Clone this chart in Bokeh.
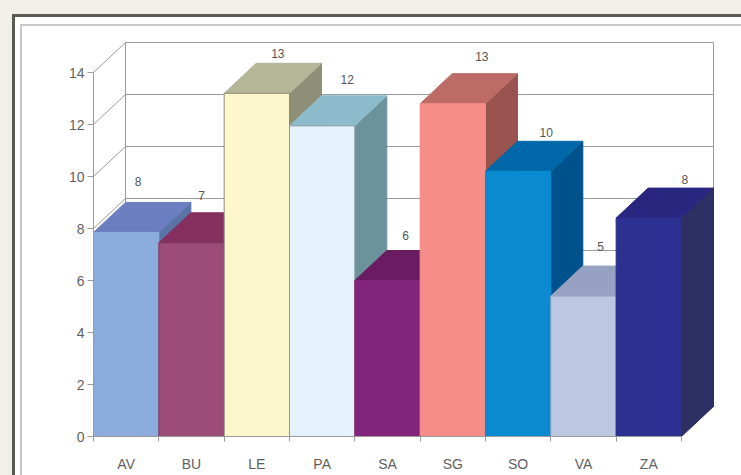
from bokeh.plotting import figure
from bokeh.models import Range1d, FixedTicker, ColumnDataSource
from bokeh.embed import file_html
from bokeh.resources import INLINE
from bokeh.core.properties import value

categories = ["AV", "BU", "LE", "PA", "SA", "SG", "SO", "VA", "ZA"]
bar_values = [7.85, 7.45, 13.2, 11.95, 6.0, 12.8, 10.2, 5.4, 8.4]
label_values = ["8", "7", "13", "12", "6", "13", "10", "5", "8"]
label_dx = [12, 10, 21, 25, 18, 29, 28, 17, 36]
label_dy = [51, 47, 40, 46, 45, 47, 39, 50, 39]
y_ticks = [0, 2, 4, 6, 8, 10, 12, 14]
front_colors = ["#8bacdc", "#9c4c78", "#fdf8cc", "#e4f3fb", "#82237c", "#f78d88", "#0a8ad0", "#bcc8e2", "#2c3090"]
top_colors = ["#6b7fc0", "#85305f", "#b5b598", "#8cbccc", "#6a1c62", "#bc6b66", "#0068a8", "#97a2c2", "#2a2680"]
side_colors = ["#5a74a8", "#7a2c55", "#8f8f78", "#6c939c", "#5e1a58", "#9a5450", "#00528c", "#7f8aa8", "#2e2f62"]
edge_colors = ["#8bacdc", "#7a3a60", "#8a8a78", "#8a9aa0", "#82237c", "#f78d88", "#0a8ad0", "#9aa6c0", "#2c3090"]

PX_X = 65.33
PX_Y = 26.0
DX = 32 / PX_X
DY = 30 / PX_Y
N = len(categories)

p = figure(width=741, height=475, output_backend="svg", toolbar_location=None,
           x_range=Range1d(0, 648 / PX_X), y_range=Range1d(0, 436 / PX_Y),
           min_border_left=93, min_border_right=0, min_border_top=0, min_border_bottom=39,
           background_fill_color=None, border_fill_color=None, outline_line_color=None)
p.grid.visible = False

# page frame, painted behind the transparent canvas
def band(color, x, y, w, h):
    return f"linear-gradient({color},{color}) {x}px {y}px / {w}px {h}px no-repeat"

p.styles = {"background": ", ".join([
    band("#5a5a55", 12, 14, 3, 461),
    band("#5a5a55", 12, 14, 729, 3),
    band("#c8c8c8", 20, 24, 2, 451),
    band("#c8c8c8", 20, 24, 721, 2),
    band("#f2efe9", 0, 0, 12, 475),
    band("#f2efe9", 0, 0, 741, 14),
    band("#ffffff", 0, 0, 741, 475),
])}

# walls
grid_color = "#9a9a9a"
wall = [t for t in y_ticks]
p.segment(x0=[DX] * len(wall), x1=[N + DX] * len(wall),
          y0=[t + DY for t in wall], y1=[t + DY for t in wall],
          line_color=grid_color, line_width=1)
p.segment(x0=[0] * len(wall), x1=[DX] * len(wall),
          y0=wall, y1=[t + DY for t in wall], line_color=grid_color, line_width=1)
p.segment(x0=[DX, N + DX], x1=[DX, N + DX],
          y0=[DY, DY], y1=[14 + DY, 14 + DY], line_color=grid_color, line_width=1)

# bars
xs, ys, fills, lines = [], [], [], []
for i, v in enumerate(bar_values):
    l, r = i, i + 1
    xs.append([r, r + DX, r + DX, r]); ys.append([0, DY, v + DY, v])
    fills.append(side_colors[i]); lines.append(side_colors[i])
    xs.append([l, r, r + DX, l + DX]); ys.append([v, v, v + DY, v + DY])
    fills.append(top_colors[i]); lines.append(top_colors[i])
    xs.append([l, r, r, l]); ys.append([0, 0, v, v])
    fills.append(front_colors[i]); lines.append(edge_colors[i])
p.patches(xs=xs, ys=ys, fill_color=fills, line_color=lines, line_width=1)

# value labels
src = ColumnDataSource(dict(x=[i + 0.5 for i in range(N)], y=bar_values, t=label_values,
                            dx=label_dx, dy=[-d for d in label_dy]))
p.text(x="x", y="y", text="t", source=src, x_offset="dx", y_offset="dy",
       text_align="center", text_baseline="middle", text_font=value("Liberation Sans"),
       text_font_size="12px", text_color="#555555")

# axes
ya = p.yaxis[0]
ya.ticker = FixedTicker(ticks=y_ticks)
ya.bounds = (0, 14)
ya.minor_tick_line_color = None
ya.major_tick_in = 0
ya.major_tick_out = 6
ya.major_label_standoff = 3
ya.axis_line_color = grid_color
ya.major_tick_line_color = grid_color
ya.major_label_text_font = "Liberation Sans"
ya.major_label_text_font_size = "14px"
ya.major_label_text_color = "#5f5f5f"

xa = p.xaxis[0]
xa.ticker = FixedTicker(ticks=[i + 0.5 for i in range(N)], minor_ticks=list(range(N + 1)))
xa.major_label_overrides = {i + 0.5: c for i, c in enumerate(categories)}
xa.bounds = (0, N)
xa.major_tick_in = 0
xa.major_tick_out = 0
xa.minor_tick_in = 0
xa.minor_tick_out = 5
xa.major_label_standoff = 14
xa.axis_line_color = grid_color
xa.minor_tick_line_color = grid_color
xa.major_label_text_font = "Liberation Sans"
xa.major_label_text_font_size = "14px"
xa.major_label_text_color = "#5f5f5f"

open("out.html", "w").write(file_html(p, INLINE))
